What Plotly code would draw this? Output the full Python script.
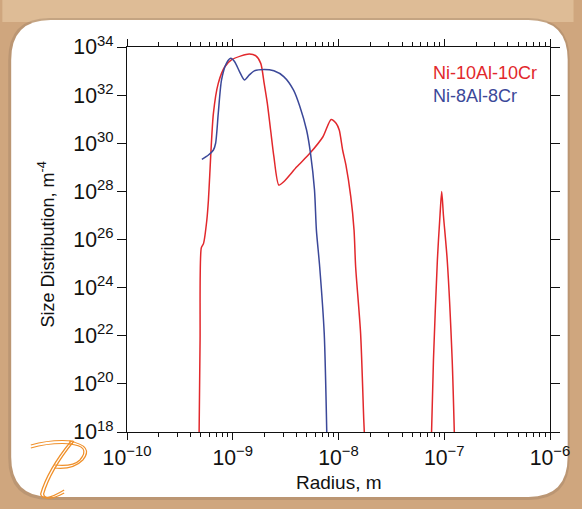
import plotly.graph_objects as go

# ---- data (log10 values) ----
red_log_r = [-9.318, -9.309, -9.2975, -9.276, -9.245, -9.230, -9.220, -9.183, -9.137, -9.075,
             -9.013, -8.921, -8.843, -8.781, -8.735, -8.703, -8.673, -8.642, -8.611, -8.564,
             -8.518, -8.394, -8.271, -8.147, -8.070, -8.023, -7.993, -7.961, -7.930, -7.884,
             -7.853, -7.838, -7.791, -7.761, -7.756,
             None,
             -7.120, -7.102, -7.065, -7.040, -7.024, -7.008, -6.972, -6.925, -6.905]
red_log_n = [18.0, 21.8, 25.65, 25.84, 26.81, 27.64, 28.47, 31.24, 32.49, 33.18,
             33.46, 33.63, 33.71, 33.63, 33.32, 32.49, 31.66, 30.55, 29.44, 28.26,
             28.40, 29.02, 29.58, 30.27, 30.99, 30.83, 30.55, 29.72, 29.10, 27.78,
             26.39, 24.87, 22.10, 18.50, 18.0,
             None,
             18.0, 20.99, 25.15, 27.02, 27.99, 27.02, 25.15, 20.99, 18.0]

blue_log_r = [-9.292, -9.230, -9.183, -9.162, -9.137, -9.106, -9.060, -9.019, -8.982, -8.935,
              -8.889, -8.843, -8.796, -8.703, -8.611, -8.518, -8.425, -8.367, -8.302, -8.265,
              -8.227, -8.209, -8.178, -8.135, -8.111]
blue_log_n = [29.33, 29.51, 29.72, 30.0, 31.24, 32.63, 33.32, 33.53, 33.39, 32.97,
              32.63, 32.84, 33.01, 33.07, 33.01, 32.77, 32.21, 31.55, 30.55, 29.59,
              28.06, 26.39, 24.87, 22.10, 18.0]

series_names = ["Ni-10Al-10Cr", "Ni-8Al-8Cr"]
series_colors = ["#e2282c", "#3b4899"]


def pw(v):
    return None if v is None else 10 ** v


red_r = [pw(v) for v in red_log_r]
red_n = [pw(v) for v in red_log_n]
blue_r = [pw(v) for v in blue_log_r]
blue_n = [pw(v) for v in blue_log_n]

# ---- layout geometry (pixels) ----
W, H = 582, 509
L, R, T, B = 127, 558, 47, 432
PW, PH = R - L, B - T


def px(x):
    return (x - L) / PW


def py(y):
    return (B - y) / PH


def P(x, y):
    return f"{px(x):.5f},{py(y):.5f}"


fig = go.Figure()
fig.add_trace(go.Scatter(x=red_r, y=red_n, mode="lines", name=series_names[0],
                         line=dict(color=series_colors[0], width=1.5, shape="spline",
                                   smoothing=0.7),
                         connectgaps=False, showlegend=False))
fig.add_trace(go.Scatter(x=blue_r, y=blue_n, mode="lines", name=series_names[1],
                         line=dict(color=series_colors[1], width=1.5, shape="spline",
                                   smoothing=0.7),
                         showlegend=False))


def rounded(x0, y0, x1, y1, rr):
    return (f"M {P(x0 + rr, y0)} L {P(x1 - rr, y0)} Q {P(x1, y0)} {P(x1, y0 + rr)} "
            f"L {P(x1, y1 - rr)} Q {P(x1, y1)} {P(x1 - rr, y1)} "
            f"L {P(x0 + rr, y1)} Q {P(x0, y1)} {P(x0, y1 - rr)} "
            f"L {P(x0, y0 + rr)} Q {P(x0, y0)} {P(x0 + rr, y0)} Z")


shapes = []
# soft gradient in the tan frame
shapes.append(dict(type="rect", xref="paper", yref="paper", x0=px(0), x1=px(W),
                   y0=py(22), y1=py(0), fillcolor="rgba(240,215,180,0.45)",
                   line=dict(width=0), layer="below"))
# shadow + white rounded panel
shapes.append(dict(type="path", xref="paper", yref="paper", path=rounded(6, 18, 578, 500, 42),
                   fillcolor="rgba(150,120,95,0.35)", line=dict(width=0), layer="below"))
shapes.append(dict(type="path", xref="paper", yref="paper", path=rounded(9, 20, 576, 497, 40),
                   fillcolor="white", line=dict(width=0), layer="below"))

# logo (orange script P)
orange = "#f0902a"
for d in (0, 3):
    p_bar = f"M {P(29, 445 + d)} Q {P(50, 439 + d)} {P(72, 441 + d)}"
    p_stem = (f"M {P(70 + d, 441)} Q {P(46 + d, 470)} {P(39 + d, 494)} "
              f"Q {P(41 + d, 503)} {P(63, 490 + d)}")
    p_bowl = (f"M {P(68, 441 + d)} Q {P(94 - d, 446)} {P(82 - d, 460)} "
              f"Q {P(72, 470 - d)} {P(53, 468 - d)}")
    for p in (p_bar, p_stem, p_bowl):
        shapes.append(dict(type="path", xref="paper", yref="paper", path=p,
                           line=dict(color=orange, width=1.2)))

annotations = [
    dict(x=px(437), y=py(73), xref="paper", yref="paper", text=series_names[0],
         showarrow=False, xanchor="left", yanchor="middle",
         font=dict(size=18, color=series_colors[0])),
    dict(x=px(437), y=py(96), xref="paper", yref="paper", text=series_names[1],
         showarrow=False, xanchor="left", yanchor="middle",
         font=dict(size=18, color=series_colors[1])),
    dict(x=px(46), y=py(245), xref="paper", yref="paper", text="Size Distribution, m<sup>-4</sup>",
         showarrow=False, textangle=-90, xanchor="center", yanchor="middle",
         font=dict(size=18, color="#111")),
    dict(x=px(343), y=py(482), xref="paper", yref="paper", text="Radius, m",
         showarrow=False, xanchor="center", yanchor="middle",
         font=dict(size=19, color="#111")),
]

fig.update_layout(
    width=W, height=H,
    margin=dict(l=L, r=W - R, t=T, b=H - B),
    paper_bgcolor="#cfa67e",
    plot_bgcolor="rgba(0,0,0,0)",
    font=dict(family="Liberation Sans, Arial, sans-serif", color="#111", size=17),
    shapes=shapes,
    annotations=annotations,
    showlegend=False,
)
fig.update_xaxes(type="log", range=[-10, -6], dtick=1, exponentformat="power",
                 showgrid=False, zeroline=False, showline=True, linecolor="#111", linewidth=1.2,
                 mirror="ticks", ticks="outside", ticklen=7, tickwidth=1.2, tickcolor="#111",
                 minor=dict(ticks="outside", ticklen=4, tickwidth=1, tickcolor="#111",
                            dtick="D1", showgrid=False),
                 tickfont=dict(size=17))
fig.update_yaxes(type="log", range=[18, 34], dtick=2, exponentformat="power",
                 showgrid=False, zeroline=False, showline=True, linecolor="#111", linewidth=1.2,
                 mirror="ticks", ticks="outside", ticklen=9, tickwidth=1.2, tickcolor="#111",
                 tickfont=dict(size=17))

fig.write_html("out.html")
